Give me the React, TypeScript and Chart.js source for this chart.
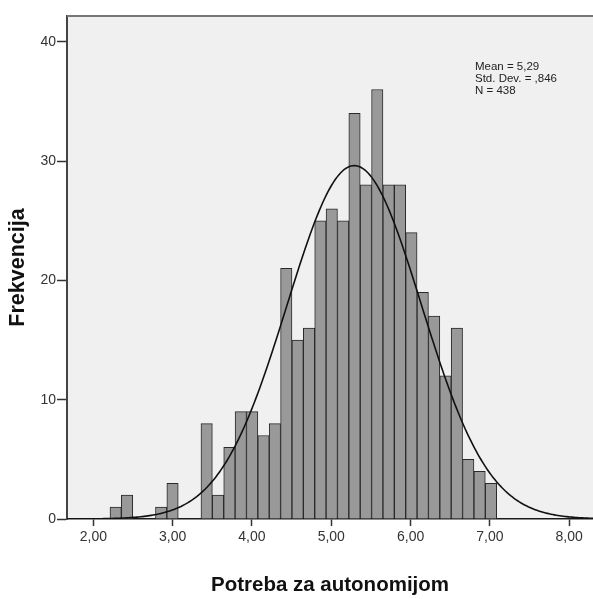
import { useEffect, useRef } from 'react';
import { Chart, registerables } from 'chart.js';

Chart.register(...registerables);

// Histogram bins (lower edge of the first bin and bin width)
const binStart = 2.21;
const binWidth = 0.1434;
const counts = [1, 2, 0, 0, 1, 3, 0, 0, 8, 2, 6, 9, 9, 7, 8, 21, 15, 16, 25, 26, 25, 34, 28, 36, 28, 28, 24, 19, 17, 12, 16, 5, 4, 3];

// Stats shown in the chart (used for the fitted normal curve)
const mean = 5.29;
const stdDev = 0.846;
const nTotal = 438;
const statLines = ['Mean = 5,29', 'Std. Dev. = ,846', 'N = 438'];

const xTicks = [2, 3, 4, 5, 6, 7, 8];
const yTicks = [0, 10, 20, 30, 40];
const xMin = 1.668;
const xMax = 8.3;
const yMax = 42.16;

const xTitle = 'Potreba za autonomijom';
const yTitle = 'Frekvencija';

const FONT = '"Liberation Sans", Arial, sans-serif';

export default function App() {
  const ref = useRef<HTMLCanvasElement | null>(null);

  useEffect(() => {
    document.body.style.margin = '0';
    const canvas = ref.current;
    if (!canvas) return;

    const barData = counts.map((c, i) => ({ x: binStart + (i + 0.5) * binWidth, y: c }));
    const curve: { x: number; y: number }[] = [];
    const steps = 300;
    for (let i = 0; i <= steps; i++) {
      const x = xMin + ((xMax - xMin) * i) / steps;
      const z = (x - mean) / stdDev;
      const y = (nTotal * binWidth) / (stdDev * Math.sqrt(2 * Math.PI)) * Math.exp(-0.5 * z * z);
      curve.push({ x, y });
    }

    const bgPlugin = {
      id: 'plotBg',
      beforeDraw(chart: any) {
        const { ctx, chartArea } = chart;
        ctx.save();
        ctx.fillStyle = '#f0f0f0';
        ctx.fillRect(chartArea.left, chartArea.top, chartArea.right - chartArea.left, chartArea.bottom - chartArea.top);
        ctx.restore();
      },
      afterDraw(chart: any) {
        const { ctx, chartArea } = chart;
        ctx.save();
        ctx.strokeStyle = '#777';
        ctx.lineWidth = 2;
        ctx.beginPath();
        ctx.moveTo(chartArea.left, chartArea.top);
        ctx.lineTo(chartArea.right, chartArea.top);
        ctx.stroke();
        ctx.fillStyle = '#222';
        ctx.font = '11.5px ' + FONT;
        ctx.textBaseline = 'alphabetic';
        ctx.textAlign = 'left';
        statLines.forEach((t, i) => ctx.fillText(t, 475, 70 + i * 12));
        ctx.restore();
      },
    };

    const chart = new Chart(canvas, {
      type: 'bar',
      data: {
        datasets: [
          {
            type: 'line',
            data: curve,
            borderColor: '#111',
            borderWidth: 1.6,
            pointRadius: 0,
            fill: false,
            tension: 0,
            order: 0,
          } as any,
          {
            type: 'bar',
            data: barData,
            backgroundColor: '#999999',
            borderColor: '#2a2a2a',
            borderWidth: 1,
            barPercentage: 1,
            categoryPercentage: 1,
            order: 1,
          } as any,
        ],
      },
      options: {
        responsive: false,
        animation: false,
        layout: { padding: { top: 16, left: 0, right: 0, bottom: 0 } },
        plugins: { legend: { display: false }, tooltip: { enabled: false } },
        scales: {
          x: {
            type: 'linear',
            min: xMin,
            max: xMax,
            offset: false,
            afterBuildTicks: (s: any) => {
              s.ticks = xTicks.map((v) => ({ value: v }));
            },
            afterFit: (s: any) => {
              s.height = 80;
            },
            grid: { display: true, drawOnChartArea: false, offset: false, tickLength: 7, tickColor: '#333', tickWidth: 1.5 },
            border: { display: true, color: '#1a1a1a', width: 1.5 },
            ticks: {
              color: '#333',
              font: { family: FONT, size: 14 },
              padding: 3,
              maxRotation: 0,
              callback: (v: any) => Number(v).toFixed(2).replace('.', ','),
            },
            title: {
              display: true,
              text: xTitle,
              color: '#111',
              font: { family: FONT, size: 20.5, weight: 'bold' },
              padding: { top: 0, bottom: 1 },
            },
          },
          y: {
            type: 'linear',
            min: 0,
            max: yMax,
            afterBuildTicks: (s: any) => {
              s.ticks = yTicks.map((v) => ({ value: v }));
            },
            afterFit: (s: any) => {
              s.width = 67;
            },
            grid: { display: true, drawOnChartArea: false, tickLength: 10, tickColor: '#333', tickWidth: 1.5 },
            border: { display: true, color: '#444', width: 2 },
            ticks: {
              color: '#333',
              font: { family: FONT, size: 14 },
              padding: 1,
              callback: (v: any) => String(v),
            },
            title: {
              display: true,
              text: yTitle,
              color: '#111',
              font: { family: FONT, size: 21.5, weight: 'bold' },
              padding: { top: 5, bottom: 0 },
            },
          },
        },
      },
      plugins: [bgPlugin],
    });

    return () => chart.destroy();
  }, []);

  return (
    <div style={{ width: 593, height: 599, background: '#fff' }}>
      <canvas ref={ref} width={593} height={599} style={{ display: 'block' }} />
    </div>
  );
}
